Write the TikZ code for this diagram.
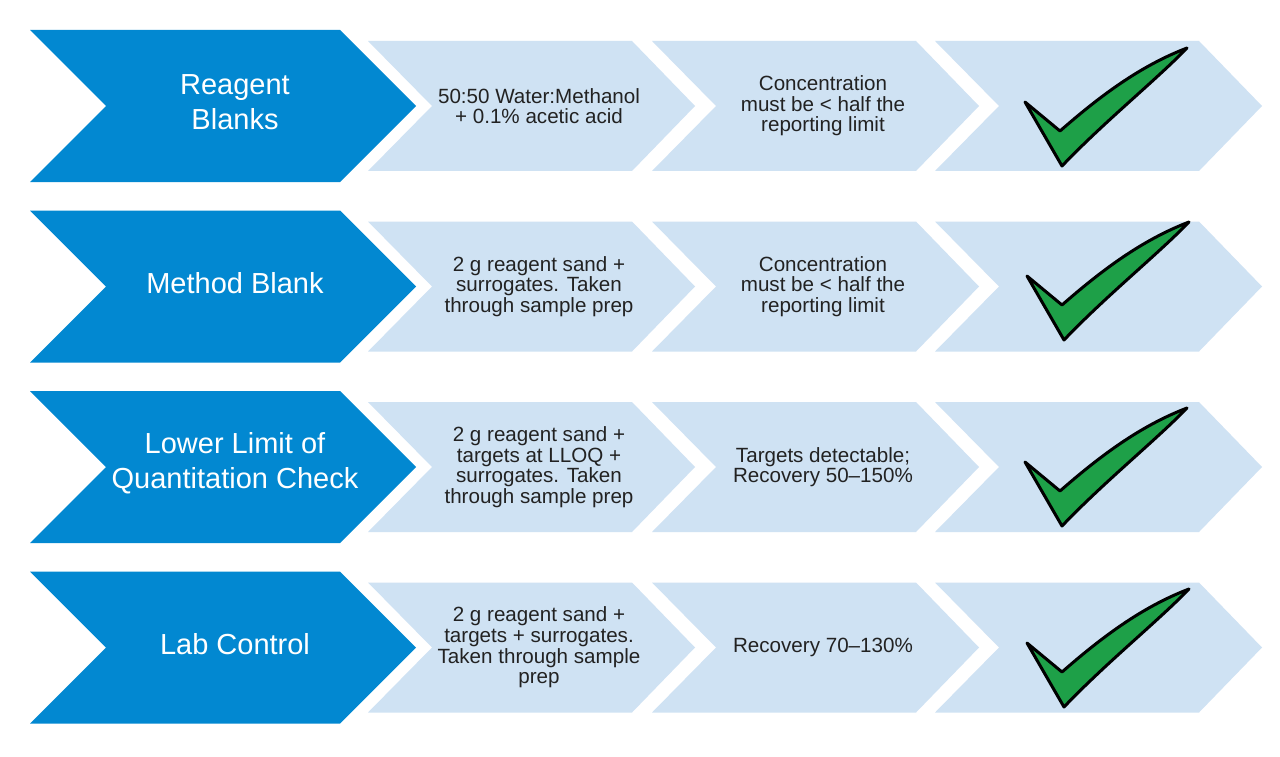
\documentclass[tikz,border=0pt]{standalone}
\usepackage{fontspec}
\setmainfont{Liberation Sans}

\definecolor{StepBlue}{RGB}{2,136,209}
\definecolor{PaleBlue}{RGB}{207,226,243}
\definecolor{TickGreen}{RGB}{30,160,72}
\definecolor{BodyText}{RGB}{34,34,34}

\begin{document}
\begin{tikzpicture}[x=1pt, y=-1pt,
HeadStyle/.style={text=white, align=center, inner sep=0pt,
                font=\fontsize{29}{35}\selectfont},
CellStyle/.style={text=BodyText, align=center, inner sep=0pt,
                font=\fontsize{20.6}{20.6}\selectfont},
HeadArrow/.pic={\fill[StepBlue] (0,-76) -- (310,-76) -- (386,0) -- (310,76)
                -- (0,76) -- (76,0) -- cycle;},
CellArrow/.pic={\fill[PaleBlue] (0,-65) -- (264,-65) -- (327,0) -- (264,65)
                -- (0,65) -- (64,0) -- cycle;},
TickMark/.pic={\filldraw[fill=TickGreen, draw=black, line width=3pt,
                line join=round] (90,-4) -- (125,25)
                .. controls (165,-10) and (205,-40) .. (252,-58)
                .. controls (220,-25) and (170,15) .. (127,60) -- cycle;},]
\useasboundingbox (0,0) rectangle (1280,757);
\fill[white] (0,0) rectangle (1280,757);

% row 1
\pic at (30,106) {HeadArrow};
\pic at (368,106) {CellArrow};
\pic at (652,106) {CellArrow};
\pic at (935,106) {CellArrow};
\pic at (935,106) {TickMark};
\node [HeadStyle] (rb) at (235,102) {Reagent\\Blanks};
\node [CellStyle] (rbmix) at (539,106) {50:50 Water:Methanol\\+ 0.1\% acetic acid};
\node [CellStyle] (rbpass) at (823,106) {Concentration\\must be < half the\\reporting limit};

% row 2
\pic at (30,286.5) {HeadArrow};
\pic at (368,286.5) {CellArrow};
\pic at (652,286.5) {CellArrow};
\pic at (935,286.5) {CellArrow};
\pic at (937,280) {TickMark};
\node [HeadStyle] (mb) at (235,283) {Method Blank};
\node [CellStyle] (mbmix) at (539,286.5) {2 g reagent sand +\\surrogates. Taken\\through sample prep};
\node [CellStyle] (mbpass) at (823,286.5) {Concentration\\must be < half the\\reporting limit};

% row 3
\pic at (30,467) {HeadArrow};
\pic at (368,467) {CellArrow};
\pic at (652,467) {CellArrow};
\pic at (935,467) {CellArrow};
\pic at (935,466) {TickMark};
\node [HeadStyle] (lloq) at (235,463) {Lower Limit of\\Quantitation Check};
\node [CellStyle] (lloqmix) at (539,467) {2 g reagent sand +\\targets at LLOQ +\\surrogates. Taken\\through sample prep};
\node [CellStyle] (lloqpass) at (823,467) {Targets detectable;\\Recovery 50–150\%};

% row 4
\pic at (30,647.5) {HeadArrow};
\pic at (368,647.5) {CellArrow};
\pic at (652,647.5) {CellArrow};
\pic at (935,647.5) {CellArrow};
\pic at (937,647) {TickMark};
\node [HeadStyle] (lc) at (235,644) {Lab Control};
\node [CellStyle] (lcmix) at (539,647.5) {2 g reagent sand +\\targets + surrogates.\\Taken through sample\\prep};
\node [CellStyle] (lcpass) at (823,647.5) {Recovery 70–130\%};
\end{tikzpicture}
\end{document}
